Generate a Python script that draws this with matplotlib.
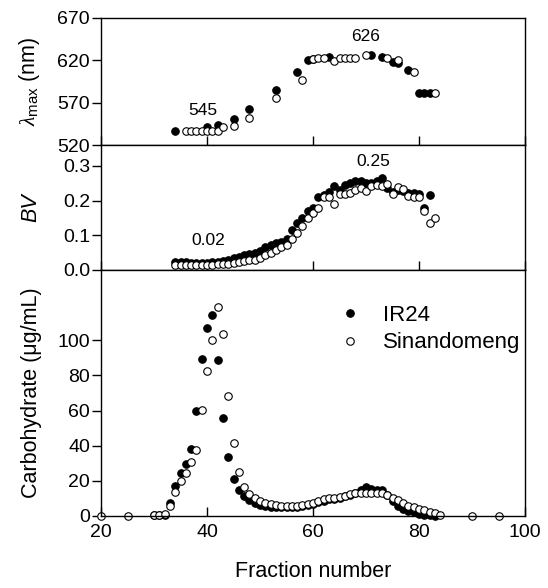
import numpy as np
import matplotlib
matplotlib.use("Agg")
import matplotlib.pyplot as plt

plt.rcParams['font.family'] = ['Liberation Sans', 'DejaVu Sans']
plt.rcParams['mathtext.fontset'] = 'custom'
plt.rcParams['mathtext.rm'] = 'Liberation Sans'
plt.rcParams['mathtext.it'] = 'Liberation Serif:italic'

# lambda max (nm)
lam_ir_x = [34, 40, 42, 45, 48, 53, 57, 59, 60, 63, 71, 73, 75, 76, 78, 80, 81, 82]
lam_ir_y = [537, 541, 544, 551, 562, 585, 606, 620, 621, 624, 626, 624, 618, 617, 609, 582, 582, 582]
lam_si_x = [36, 37, 38, 39, 40, 41, 42, 43, 45, 48, 53, 58, 60, 61, 62, 64, 65, 66, 67, 68, 70, 74, 76, 79, 83]
lam_si_y = [537, 537, 537, 537, 537, 537, 537, 541, 543, 552, 576, 597, 622, 623, 623, 619, 623, 623, 623, 623, 626, 623, 620, 606, 582]

# blue value
bv_ir_x = list(range(34, 83))
bv_ir_y = [0.022, 0.022, 0.022, 0.021, 0.021, 0.021, 0.021, 0.022, 0.024, 0.027,
           0.030, 0.034, 0.038, 0.042, 0.046, 0.050, 0.055, 0.065, 0.072, 0.077,
           0.082, 0.090, 0.115, 0.135, 0.150, 0.170, 0.180, 0.210, 0.215, 0.225,
           0.242, 0.230, 0.245, 0.252, 0.257, 0.256, 0.252, 0.250, 0.255, 0.264,
           0.235, 0.225, 0.230, 0.228, 0.222, 0.222, 0.220, 0.180, 0.216]
bv_si_x = list(range(34, 84))
bv_si_y = [0.013, 0.013, 0.013, 0.013, 0.013, 0.014, 0.014, 0.015, 0.016, 0.017,
           0.018, 0.020, 0.023, 0.025, 0.028, 0.030, 0.036, 0.042, 0.050, 0.058,
           0.065, 0.073, 0.090, 0.108, 0.127, 0.151, 0.165, 0.178, 0.209, 0.209,
           0.191, 0.218, 0.220, 0.223, 0.230, 0.236, 0.228, 0.242, 0.245, 0.242,
           0.247, 0.218, 0.238, 0.233, 0.213, 0.210, 0.209, 0.170, 0.134, 0.151]

# carbohydrate (ug/mL)
ch_ir_x = list(range(30, 84))
ch_ir_y = [0.3, 0.3, 0.8, 7.6, 17.0, 24.3, 29.7, 37.9, 59.7, 89.6,
           107.0, 114.6, 88.6, 55.9, 33.7, 20.8, 14.6, 11.4, 9.0, 7.5,
           6.3, 5.6, 5.2, 5.0, 5.0, 5.0, 5.1, 5.4, 5.8, 6.3,
           7.0, 8.0, 8.8, 9.4, 9.9, 10.5, 11.3, 12.2, 13.3, 14.8,
           16.3, 15.5, 15.0, 14.8, 12.0, 8.7, 5.7, 3.8, 3.0, 2.5,
           1.1, 0.6, 0.3, 0.2]
ch_si_x = [20, 25] + list(range(30, 85)) + [90, 95]
ch_si_y = [0, 0,
           0.3, 0.4, 1.3, 5.7, 13.6, 20.0, 24.7, 30.9, 37.5, 60.6,
           82.6, 100.4, 119.0, 103.8, 68.4, 41.7, 25.1, 16.7, 12.5, 10.0,
           8.7, 7.6, 6.8, 6.3, 5.9, 5.7, 5.7, 5.9, 6.4, 6.8,
           7.6, 8.7, 9.5, 10.0, 10.4, 11.0, 11.5, 12.3, 12.9, 13.3,
           13.3, 13.3, 12.9, 13.3, 11.9, 10.0, 9.0, 7.2, 5.7, 4.9,
           4.0, 3.4, 2.5, 1.5, 0.8,
           0, 0]

W, H = 548, 588
fig = plt.figure(figsize=(W / 100, H / 100), dpi=100)
left = 101 / W
width = 424 / W
ax_top = fig.add_axes([left, 1 - 145 / H, width, 127 / H])
ax_mid = fig.add_axes([left, 1 - 270 / H, width, 125 / H])
ax_bot = fig.add_axes([left, 1 - 516 / H, width, 246 / H])

ms = 5.4
filled = dict(marker='o', linestyle='none', ms=ms, mfc='black', mec='black', mew=0.8)
hollow = dict(marker='o', linestyle='none', ms=ms, mfc='white', mec='black', mew=0.8)

ax_top.plot(lam_ir_x, lam_ir_y, **filled)
ax_top.plot(lam_si_x, lam_si_y, **hollow)
ax_mid.plot(bv_ir_x, bv_ir_y, **filled)
ax_mid.plot(bv_si_x, bv_si_y, **hollow)
ax_bot.plot(ch_ir_x, ch_ir_y, label='IR24', clip_on=False, **filled)
ax_bot.plot(ch_si_x, ch_si_y, label='Sinandomeng', clip_on=False, **hollow)

fs = 14
lfs = 15.5
for ax in (ax_top, ax_mid, ax_bot):
    ax.set_xlim(20, 100)
    ax.set_xticks([20, 40, 60, 80, 100])
    ax.tick_params(axis='x', direction='in', length=6.5, width=1, labelsize=fs, pad=6)
    ax.tick_params(axis='y', direction='out', length=6.5, width=1, labelsize=fs, pad=1.5)
    for s in ax.spines.values():
        s.set_linewidth(1)

ax_top.set_ylim(520, 670)
ax_top.set_yticks([520, 570, 620, 670])
ax_top.tick_params(axis='x', labelbottom=False)
ax_top.set_ylabel(r'$\lambda_{\rm max}$ (nm)', fontsize=lfs)
ax_top.text(39.3, 561, '545', ha='center', va='center', fontsize=12.5)
ax_top.text(69.9, 648, '626', ha='center', va='center', fontsize=12.5)

ax_mid.set_ylim(0, 0.36)
ax_mid.set_yticks([0.0, 0.1, 0.2, 0.3])
ax_mid.set_yticklabels(['0.0', '0.1', '0.2', '0.3'])
ax_mid.tick_params(axis='x', labelbottom=False)
ax_mid.set_ylabel('BV', fontsize=lfs, style='italic')
ax_mid.text(40.2, 0.084, '0.02', ha='center', va='center', fontsize=12.5)
ax_mid.text(71.3, 0.312, '0.25', ha='center', va='center', fontsize=12.5)

ax_bot.set_ylim(0, 140)
ax_bot.set_yticks([0, 20, 40, 60, 80, 100])
ax_bot.set_ylabel('Carbohydrate (\u03bcg/mL)', fontsize=lfs)
ax_bot.set_xlabel('Fraction number', fontsize=lfs, labelpad=14)
ax_bot.legend(loc='upper left', bbox_to_anchor=(0.54, 0.895), frameon=False,
              fontsize=16, handletextpad=1.0, labelspacing=0.3,
              borderaxespad=0, handlelength=1.0)

for ax in (ax_top, ax_mid, ax_bot):
    ax.yaxis.set_label_coords(-0.14, 0.5)

fig.savefig('out.png', dpi=100)
